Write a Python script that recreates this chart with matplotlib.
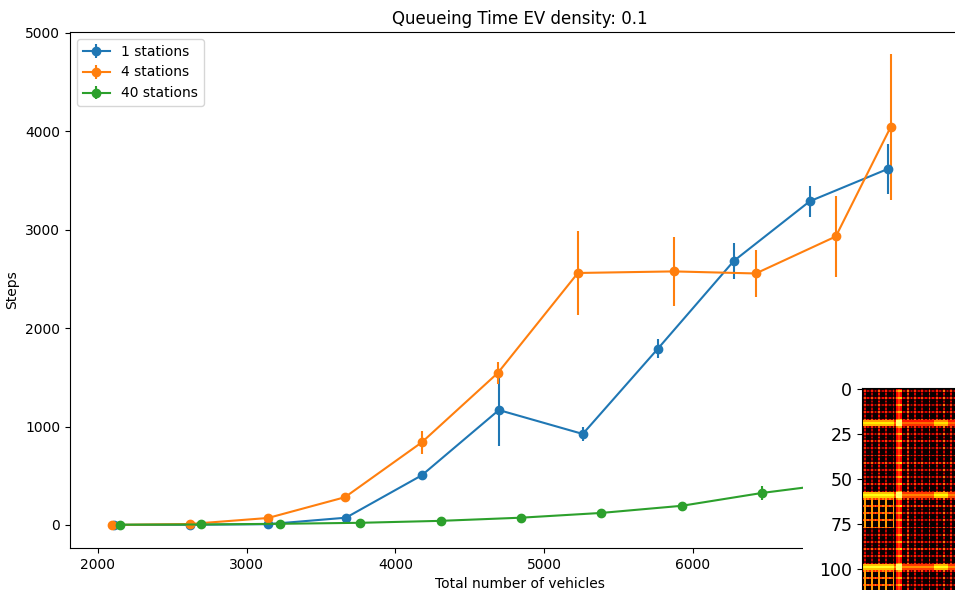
import numpy as np
import matplotlib
matplotlib.use("Agg")
import matplotlib.pyplot as plt
from matplotlib.patches import Rectangle

# queueing time (steps) against total vehicles, one series per station count
x_1 = [2110, 2618, 3143, 3667, 4177, 4695, 5259, 5763, 6274, 6785, 7309]
y_1 = [0, 2, 8, 74, 505, 1168, 925, 1790, 2683, 3290, 3618]
err_1 = [0, 2, 8, 15, 20, 366, 70, 95, 180, 160, 250]

x_4 = [2094, 2618, 3143, 3660, 4177, 4688, 5226, 5871, 6422, 6960, 7329]
y_4 = [0, 10, 71, 282, 840, 1545, 2561, 2577, 2556, 2932, 4045]
err_4 = [0, 5, 15, 25, 117, 112, 427, 350, 240, 410, 742]

x_40 = [2148, 2692, 3223, 3761, 4305, 4843, 5380, 5925, 6462, 7006, 7544]
y_40 = [3, 5, 12, 22, 42, 74, 122, 195, 325, 430, 560]
err_40 = [1, 2, 3, 5, 8, 10, 15, 25, 76, 90, 110]

labels = ["1 stations", "4 stations", "40 stations"]

# road occupancy map for the inset
grid_size = 120
minor_step = 4
minor_row_levels = [0.28, 0.36, 0.24, 0.32, 0.4, 0.3]
minor_col_levels = [0.32, 0.26, 0.38, 0.3, 0.22, 0.34, 0.42]
major_rows = [18, 19, 20, 58, 59, 60, 98, 99, 100]
major_row_levels = [0.4, 0.52, 0.44, 0.45, 0.56, 0.48, 0.45, 0.58, 0.46]
major_cols = [19, 20, 21]
major_col_levels = [0.36, 0.46, 0.36]
busy_blocks = [(61, 78), (101, 120)]
busy_cols = 18

grid = np.zeros((grid_size, grid_size))
minor_idx = np.arange(1, grid_size, minor_step)
dots = np.where(np.arange(grid_size) % 2, 1.0, 0.45)
for k, r in enumerate(minor_idx):
    grid[r, :] = minor_row_levels[k % len(minor_row_levels)] * dots
for k, c in enumerate(minor_idx):
    level = minor_col_levels[k % len(minor_col_levels)]
    grid[:, c] = np.maximum(grid[:, c], level * dots)
grid[np.ix_(minor_idx, minor_idx)] += 0.12
for r0, r1 in busy_blocks:
    for r in minor_idx[(minor_idx >= r0) & (minor_idx < r1)]:
        grid[r, :busy_cols] = 0.55 * np.where(np.arange(busy_cols) % 2, 1.0, 0.8)
    grid[r0:r1, minor_idx[minor_idx < busy_cols]] = 0.6
for r, level in zip(major_rows, major_row_levels):
    grid[r, :] = np.maximum(grid[r, :], level)
    grid[r, :busy_cols] = level + 0.2
    grid[r, 40:48] = level + 0.18
for c, level in zip(major_cols, major_col_levels):
    grid[:, c] = np.maximum(grid[:, c], level)
    grid[minor_idx, c] += 0.18
grid[np.ix_(major_rows, major_cols)] = 0.85
grid[:, 45] = np.maximum(grid[:, 45], 0.3 * dots)
grid[minor_idx, 45] = 0.55
grid = np.clip(grid, 0, 1)

fig = plt.figure(figsize=(9.55, 5.9), dpi=100)
ax = fig.add_axes([70 / 955, 42 / 590, 900 / 955, 516 / 590], zorder=0)

ax.errorbar(x_1, y_1, yerr=err_1, marker="o", label=labels[0])
ax.errorbar(x_4, y_4, yerr=err_4, marker="o", label=labels[1])
ax.errorbar(x_40, y_40, yerr=err_40, marker="o", label=labels[2])
ax.set_xlim(1812, 7862)
ax.set_ylim(-234, 5010)
ax.set_xticks([2000, 3000, 4000, 5000, 6000])
ax.set_xlabel("Total number of vehicles")
ax.set_ylabel("Steps")
ax.set_title("Queueing Time EV density: 0.1")
ax.legend(loc="upper left")

# blank area behind the inset and its tick labels
fig.patches.append(Rectangle((803 / 955, 0), 1, 210 / 590,
                             transform=fig.transFigure, facecolor="white",
                             edgecolor="none", zorder=1))

inset = fig.add_axes([862 / 955, -14 / 590, 216 / 955, 216 / 590], zorder=2)
inset.imshow(grid, cmap="hot", vmin=0, vmax=1, aspect="auto", interpolation="nearest")
inset.set_yticks([0, 25, 50, 75, 100])
inset.set_xticks([])
inset.tick_params(labelsize=12.5)

fig.savefig("out.png", dpi=100)
